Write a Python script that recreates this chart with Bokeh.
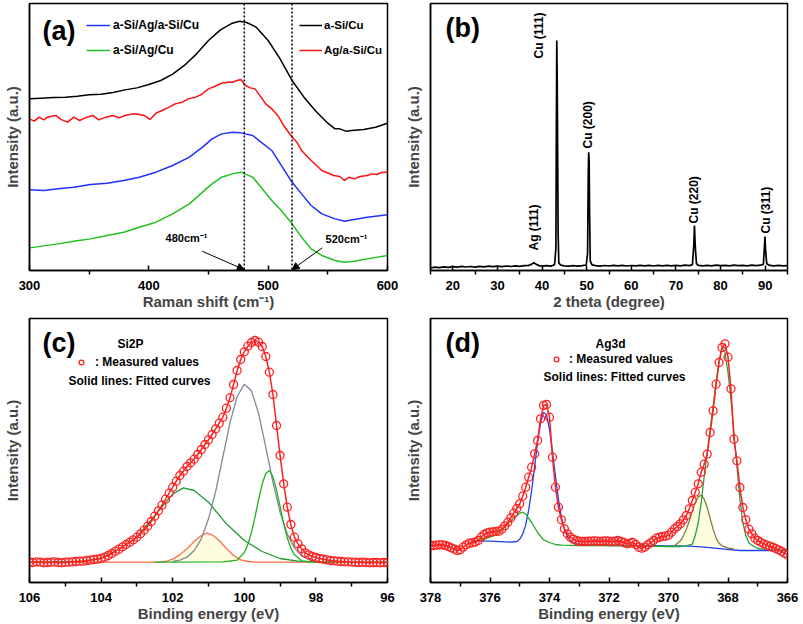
import math
from bokeh.plotting import figure
from bokeh.layouts import column, row
from bokeh.models import (Range1d, FixedTicker, Span, Arrow, NormalHead, Label,
                          Legend, LegendItem)
from bokeh.core.properties import value
from bokeh.embed import file_html
from bokeh.resources import INLINE

FONT = "Liberation Sans"

# ---------------- (a) Raman spectra ----------------
raman_black_x = [300, 310, 320, 330, 340, 350, 360, 370, 380, 390, 400, 410, 420, 430, 440, 450, 460, 470,
                 476, 482, 490, 500, 510, 520, 530, 540, 550, 556, 560, 565, 570, 580, 590, 600]
raman_black_y = [173.3, 174.0, 174.7, 175.0, 176.0, 177.3, 178.0, 179.7, 182.3, 184.3, 187.7, 191.7, 198.0,
                 207.0, 218.3, 231.7, 242.3, 249.0, 251.0, 249.7, 245.0, 231.7, 213.3, 191.7, 175.0, 161.0,
                 149.0, 143.3, 143.3, 141.0, 141.7, 142.7, 145.0, 149.0]
raman_red_x = [300, 304, 308, 312, 315, 322, 327, 332, 337, 342, 348, 353, 358, 364, 370, 375, 380, 386, 392,
               396, 401, 406, 411, 417, 422, 428, 433, 439, 444, 450, 455, 461, 466, 470, 474, 477, 481, 485,
               489, 494, 498, 503, 508, 513, 519, 524, 528, 536, 545, 555, 560, 564, 568, 572, 577, 583, 587,
               591, 595, 600]
raman_red_y = [153.3, 151.0, 155.0, 152.3, 155.0, 156.7, 152.3, 150.0, 155.0, 151.7, 155.0, 156.7, 152.3,
               155.0, 156.7, 154.3, 156.7, 158.3, 157.7, 156.7, 152.7, 159.0, 161.7, 165.0, 168.3, 170.0,
               173.3, 175.0, 177.7, 183.3, 185.7, 189.0, 190.0, 190.0, 191.7, 192.7, 186.7, 184.3, 183.3,
               175.0, 168.3, 163.3, 156.7, 146.7, 136.7, 130.0, 121.7, 111.7, 101.7, 96.7, 95.7, 91.7, 95.0,
               93.3, 95.7, 96.7, 98.3, 97.7, 99.7, 100.0]
raman_bg_x = [300, 312, 324, 337, 351, 365, 379, 392, 406, 420, 434, 445, 453, 461, 470, 477, 487, 494, 503,
              511, 519, 528, 536, 545, 556, 564, 572, 583, 600]
raman_blue_y = [82.3, 81.7, 83.3, 85.0, 87.7, 89.0, 91.7, 95.0, 100.0, 106.7, 115.0, 125.0, 133.3, 138.3,
                140.0, 139.3, 136.7, 130.0, 121.7, 106.7, 91.7, 78.3, 66.7, 58.3, 53.3, 51.0, 52.7, 55.0, 57.3]
raman_green_y = [24.3, 26.3, 28.3, 31.0, 33.3, 36.7, 40.0, 45.0, 50.0, 58.3, 68.3, 80.0, 88.3, 95.0, 98.3,
                 100.0, 95.0, 85.0, 71.7, 61.7, 50.0, 35.0, 23.3, 16.7, 11.7, 10.0, 11.0, 13.3, 16.7]
raman_marks = [480, 520]
raman_mark_text = ["480cm\u207b\u00b9", "520cm\u207b\u00b9"]
raman_arrow_x0 = [444.6, 545.3]
raman_arrow_y0 = [21.0, 24.3]
raman_arrow_y1 = [2.5, 2.5]

# ---------------- (b) XRD ----------------
xrd_x = [15, 16, 17, 18, 19, 20, 21, 22, 23, 24, 25, 26, 27, 28, 29, 30, 31, 32, 33, 34, 35, 36, 37, 37.6,
         38.2, 38.8, 39.5, 40, 41, 42, 42.8, 43.1, 43.2, 43.3, 43.4, 43.5, 43.6, 43.75, 44.2, 45, 46, 47, 48,
         49, 49.9, 50.2, 50.35, 50.45, 50.55, 50.65, 50.8, 51.2, 52, 53, 54, 55, 56, 57, 58, 59, 60, 61, 62,
         63, 64, 65, 66, 67, 68, 69, 70, 71, 72, 73, 73.7, 74.0, 74.15, 74.3, 74.4, 74.6, 75, 76, 77, 78, 79,
         80, 81, 82, 83, 84, 85, 86, 87, 88, 89, 89.6, 89.85, 89.95, 90.05, 90.15, 90.35, 91, 92, 93, 94, 95]
xrd_y = [5.2, 6.0, 5.5, 6.3, 5.8, 6.5, 6.0, 6.8, 6.2, 6.7, 6.1, 6.9, 6.4, 7.0, 6.5, 7.1, 6.6, 7.2, 6.7, 7.3,
         6.9, 7.5, 7.8, 8.8, 10.5, 8.6, 7.3, 7.0, 7.5, 7.1, 8.5, 25, 140, 232.7, 190, 116, 40, 10, 8.0, 7.4,
         7.0, 7.6, 7.1, 7.5, 8.2, 20, 100, 121, 113, 60, 12, 8.4, 7.6, 7.1, 7.7, 7.2, 7.8, 7.3, 7.9, 7.2,
         7.7, 7.3, 7.9, 7.4, 7.8, 7.2, 7.9, 7.4, 7.8, 7.3, 7.9, 7.4, 8.0, 7.6, 8.6, 28, 47.7, 30, 22, 9.5,
         7.8, 7.3, 7.9, 7.4, 8.0, 7.5, 7.9, 7.3, 8.0, 7.5, 7.9, 7.4, 8.0, 7.6, 8.0, 9.0, 28, 36.7, 26, 19,
         9.5, 7.8, 7.3, 7.9, 7.4, 7.6]
xrd_label_text = ["Ag (111)", "Cu (111)", "Cu (200)", "Cu (220)", "Cu (311)"]
xrd_label_x = [38.1, 39.3, 50.35, 74.05, 90.1]
xrd_label_y = [22.7, 214.7, 124.7, 49.7, 39.7]

# ---------------- (c) Si2P XPS ----------------
si_x = [round(106.0 - 0.1 * i, 1) for i in range(101)]
si_meas = [65, 64, 66, 65, 63, 64, 65, 66, 64, 63,
           65, 65, 66, 67, 68, 68, 70, 71, 73, 74,
           76, 80, 85, 91, 98, 104, 111, 118, 125, 132,
           140, 150, 161, 173, 187, 203, 219, 236, 254, 272,
           290, 308, 325, 338, 352, 363, 374, 388, 403, 418,
           432, 448, 465, 482, 500, 527, 558, 598, 640, 673,
           696, 713, 724, 730, 725, 712, 682, 635, 568, 475,
           385, 300, 230, 178, 140, 120, 105, 93, 87, 82,
           79, 76, 74, 72, 70, 69, 68, 67, 66, 66,
           65, 65, 64, 65, 64, 63, 64, 64, 63, 64,
           64]
si_gray_x = [102.0, 101.8, 101.6, 101.4, 101.2, 101.0, 100.8, 100.6, 100.4, 100.2, 100.0, 99.8, 99.6, 99.4,
             99.2, 99.0, 98.8, 98.6, 98.4, 98.2, 98.0]
si_gray_y = [67, 71, 80, 100, 135, 195, 277, 380, 483, 562, 599, 579, 511, 410, 305, 214, 150, 108, 84, 73, 68]
si_green2_x = [102.5, 100.6, 100.2, 100.0, 99.9, 99.8, 99.7, 99.6, 99.5, 99.4, 99.3, 99.2, 99.1, 99.0, 98.9,
               98.8, 98.7, 98.6, 98.4, 98.2, 97.5]
si_green2_y = [65, 66, 71, 94, 118, 154, 201, 253, 300, 331, 340, 321, 282, 232, 181, 138, 107, 87, 69, 66, 65]
si_green1_x = [106.0, 104.5, 104.0, 103.5, 103.0, 102.5, 102.0, 101.7, 101.4, 101.0, 100.5, 100.0, 99.5,
               99.0, 98.5, 98.0, 97.0, 96.0]
si_green1_y = [65, 67, 78, 103, 140, 205, 270, 288, 280, 245, 180, 130, 97, 76, 68, 66, 65, 65]
si_orange_x = [106.0, 102.4, 102.2, 102.0, 101.8, 101.6, 101.4, 101.2, 101.05, 100.9, 100.7, 100.5, 100.3,
               100.1, 99.9, 99.7, 96.0]
si_orange_y = [65, 65, 67, 74, 87, 105, 127, 145, 152, 147, 130, 106, 85, 72, 67, 65, 65]
si_base = 65

# ---------------- (d) Ag3d XPS ----------------
ag_x = [round(378.0 - 0.1 * i, 1) for i in range(121)]
ag_meas = [111, 111, 112, 113, 113, 111, 108, 104, 100, 96,
           98, 106, 113, 118, 119, 121, 126, 136, 144, 149,
           151, 152, 153, 154, 160, 170, 181, 194, 208, 222,
           236, 259, 286, 316, 346, 386, 426, 491, 531, 534,
           496, 376, 286, 226, 188, 161, 146, 136, 130, 126,
           124, 123, 123, 124, 124, 125, 124, 123, 124, 125,
           124, 123, 124, 126, 123, 120, 116, 118, 120, 114,
           106, 103, 106, 113, 119, 126, 133, 136, 138, 139,
           142, 151, 161, 168, 176, 188, 201, 221, 246, 271,
           296, 331, 355, 385, 450, 515, 595, 660, 705, 716,
           676, 581, 430, 365, 285, 225, 188, 160, 146, 133,
           126, 121, 116, 112, 109, 106, 102, 98, 93, 88,
           83]
ag_blue_x = [376.6, 376.0, 375.5, 375.3, 375.1, 375.0, 374.9, 374.8, 374.7, 374.6, 374.5, 374.4, 374.3,
             374.2, 374.1, 374.0, 373.9, 373.8, 373.7, 373.6, 373.5, 373.4, 373.3, 373.2, 373.0, 372.0,
             371.0, 370.0, 369.3, 368.8, 368.2, 367.6, 366.0]
ag_blue_y = [125, 124, 122, 121, 123, 130, 145, 173, 217, 276, 347, 421, 480, 511, 502, 460, 393, 318, 250,
             196, 160, 138, 126, 120, 114, 111, 111, 110, 109, 106, 101, 96, 96]
ag_green1_x = [376.6, 376.4, 376.2, 376.0, 375.8, 375.6, 375.4, 375.2, 375.0, 374.9, 374.8, 374.6, 374.4,
               374.2, 374.0, 373.8, 373.6, 373.0, 372.0, 371.0, 370.0]
ag_green1_y = [125, 126, 130, 136, 143, 157, 176, 194, 208, 211, 205, 180, 150, 128, 120, 114, 112, 111, 111,
               110, 108]
ag_olive_x = [370.0, 369.8, 369.6, 369.5, 369.4, 369.3, 369.2, 369.1, 369.0, 368.9, 368.8, 368.7, 368.6,
              368.5, 368.4, 368.3, 368.2, 368.0, 367.8]
ag_olive_y = [108, 110, 125, 140, 160, 185, 213, 240, 257, 262, 250, 225, 192, 160, 133, 118, 110, 104, 100]
ag_green2_x = [370.0, 369.6, 369.4, 369.2, 369.1, 369.0, 368.9, 368.8, 368.7, 368.6, 368.5, 368.4, 368.3,
               368.2, 368.1, 368.0, 367.9, 367.8, 367.7, 367.6, 367.5, 367.4, 367.3, 367.2, 367.0, 366.5,
               366.0]
ag_green2_y = [108, 108, 110, 115, 141, 180, 240, 318, 390, 458, 530, 598, 665, 705, 690, 630, 550, 450, 350,
               250, 180, 140, 120, 112, 102, 98, 96]
ag_base = 108


# ---------------- helpers ----------------
def make_fig(w, h, xr, yr, bl, br, bt, bb, xlabel, ticks, minor):
    p = figure(width=w, height=h, x_range=xr, y_range=yr, output_backend="svg",
               toolbar_location=None, min_border_left=bl, min_border_right=br,
               min_border_top=bt, min_border_bottom=bb)
    p.xgrid.visible = False
    p.ygrid.visible = False
    p.outline_line_color = "black"
    p.outline_line_width = 1.5
    p.outline_line_alpha = 1.0
    xa = p.xaxis[0]
    xa.ticker = FixedTicker(ticks=ticks, minor_ticks=minor)
    xa.axis_label = xlabel
    xa.axis_label_text_font = FONT
    xa.axis_label_text_font_style = "bold"
    xa.axis_label_text_font_size = "15px"
    xa.axis_label_standoff = 0
    xa.major_label_text_font = FONT
    xa.major_label_text_font_style = "bold"
    xa.major_label_text_font_size = "13px"
    xa.major_label_text_color = "black"
    xa.major_label_standoff = 6
    xa.major_tick_in = 5
    xa.major_tick_out = 0
    xa.minor_tick_in = 0
    xa.minor_tick_out = 4
    xa.major_tick_line_width = 1.5
    xa.minor_tick_line_width = 1.5
    xa.axis_line_width = 1.5
    ya = p.yaxis[0]
    ya.ticker = FixedTicker(ticks=[])
    ya.axis_label = "Intensity (a.u.)"
    ya.axis_label_text_font = FONT
    ya.axis_label_text_font_style = "bold"
    ya.axis_label_text_font_size = "15px"
    ya.axis_label_standoff = 9
    ya.major_label_standoff = 0
    ya.major_tick_in = 0
    ya.major_tick_out = 0
    ya.minor_tick_in = 0
    ya.minor_tick_out = 0
    ya.axis_line_width = 1.5
    return p


def style_legend(leg, size="12px", gw=24, gh=14, standoff=3, spacing=11):
    leg.glyph_width = gw
    leg.glyph_height = gh
    leg.label_height = 14
    leg.label_standoff = standoff
    leg.spacing = spacing
    leg.padding = 0
    leg.margin = 0
    leg.border_line_alpha = 0
    leg.background_fill_alpha = 0
    leg.label_text_font = FONT
    leg.label_text_font_style = "bold"
    leg.label_text_font_size = size
    leg.label_text_color = "black"
    return leg


def add_text(p, x, y, text, size, align="left"):
    p.add_layout(Label(x=x, y=y, x_units="screen", y_units="screen", text=text,
                       text_font=FONT, text_font_style="bold", text_font_size=size,
                       text_align=align, text_baseline="middle", text_color="black"))


# ---------------- (a) ----------------
pa = make_fig(401, 312, Range1d(300, 600), Range1d(1.67, 268.67), 25, 14, 3, 42,
              "Raman shift (cm\u207b\u00b9)", [300, 400, 500, 600], [350, 450, 550])
for m in raman_marks:
    pa.add_layout(Span(location=m, dimension="height", line_color="black", line_dash="2 2",
                       line_width=1.5))
r_black = pa.line(raman_black_x, raman_black_y, line_color="black", line_width=1.5)
r_red = pa.line(raman_red_x, raman_red_y, line_color="#ff1010", line_width=1.5)
r_blue = pa.line(raman_bg_x, raman_blue_y, line_color="#2030ff", line_width=1.5)
r_green = pa.line(raman_bg_x, raman_green_y, line_color="#20c020", line_width=1.5)
for i in range(2):
    pa.add_layout(Arrow(x_start=raman_arrow_x0[i], y_start=raman_arrow_y0[i], x_end=raman_marks[i],
                        y_end=raman_arrow_y1[i], line_color="black", line_width=1,
                        end=NormalHead(size=7, fill_color="black", line_color="black")))
leg_a1 = style_legend(Legend(items=[LegendItem(label="a-Si/Ag/a-Si/Cu", renderers=[r_blue]),
                                    LegendItem(label="a-Si/Ag/Cu", renderers=[r_green])],
                             location=(57, 213)))
leg_a2 = style_legend(Legend(items=[LegendItem(label="a-Si/Cu", renderers=[r_black]),
                                    LegendItem(label="Ag/a-Si/Cu", renderers=[r_red])],
                             location=(270, 213)), size="11.5px", gw=23, standoff=2)
pa.add_layout(leg_a1)
pa.add_layout(leg_a2)
add_text(pa, 13, 240, "(a)", "27px")
add_text(pa, 157, 33, raman_mark_text[0], "11px", "center")
add_text(pa, 317, 32, raman_mark_text[1], "11px", "center")

# ---------------- (b) ----------------
pb = make_fig(402, 312, Range1d(15, 95), Range1d(2.7, 269.7), 27, 16, 3, 42,
              "2 theta (degree)", [20, 30, 40, 50, 60, 70, 80, 90], [15, 25, 35, 45, 55, 65, 75, 85, 95])
pb.line(xrd_x, xrd_y, line_color="black", line_width=1.7)
pb.text(xrd_label_x, xrd_label_y, text=xrd_label_text, angle=math.pi / 2, text_align="left",
        text_baseline="middle", text_font=value(FONT), text_font_style="bold",
        text_font_size="12px", text_color="black")
add_text(pb, 15, 243, "(b)", "27px")

# ---------------- (c) ----------------
pc = make_fig(401, 312, Range1d(106, 96), Range1d(4, 796), 25, 14, 6, 42,
              "Binding energy (eV)", [96, 98, 100, 102, 104, 106], [97, 99, 101, 103, 105])
pc.varea(x=si_orange_x, y1=si_base, y2=si_orange_y, fill_color="#fffde0", fill_alpha=1.0)
pc.line(si_orange_x, si_orange_y, line_color="#ff6e45", line_width=1.3)
pc.line(si_green1_x, si_green1_y, line_color="#1f9a35", line_width=1.3)
pc.line(si_gray_x, si_gray_y, line_color="#7f8a94", line_width=1.3)
pc.line(si_green2_x, si_green2_y, line_color="#22b022", line_width=1.3)
pc.line(si_x, si_meas, line_color="#ff2020", line_width=1.5)
c_circ = pc.scatter(si_x, si_meas, marker="circle", size=8, line_color="#ff2020", fill_alpha=0,
                    line_width=1.3)
leg_c = style_legend(Legend(items=[LegendItem(label=": Measured values", renderers=[c_circ])],
                            location=(46, 213)), gw=12, standoff=8)
pc.add_layout(leg_c)
add_text(pc, 13, 240, "(c)", "27px")
add_text(pc, 101, 239, "Si2P", "12px", "center")
add_text(pc, 110, 202, "Solid lines: Fitted curves", "12px", "center")

# ---------------- (d) ----------------
pd = make_fig(402, 312, Range1d(378, 366), Range1d(0, 792), 27, 16, 6, 42,
              "Binding energy (eV)", [366, 368, 370, 372, 374, 376, 378], [367, 369, 371, 373, 375, 377])
pd.varea(x=ag_olive_x, y1=ag_base, y2=ag_olive_y, fill_color="#fffde0", fill_alpha=1.0)
pd.line(ag_blue_x, ag_blue_y, line_color="#2040f0", line_width=1.3)
pd.line(ag_green1_x, ag_green1_y, line_color="#22aa22", line_width=1.3)
pd.line(ag_olive_x, ag_olive_y, line_color="#80803a", line_width=1.3)
pd.line(ag_green2_x, ag_green2_y, line_color="#25a04a", line_width=1.3)
pd.line(ag_x, ag_meas, line_color="#ff2020", line_width=1.5)
d_circ = pd.scatter(ag_x, ag_meas, marker="circle", size=8, line_color="#ff2020", fill_alpha=0,
                    line_width=1.3)
leg_d = style_legend(Legend(items=[LegendItem(label=": Measured values", renderers=[d_circ])],
                            location=(120, 216)), gw=12, standoff=7)
pd.add_layout(leg_d)
add_text(pd, 15, 240, "(d)", "27px")
add_text(pd, 180, 239, "Ag3d", "12px", "center")
add_text(pd, 184, 206, "Solid lines: Fitted curves", "12px", "center")

layout = column(row(pa, pb), row(pc, pd))
open("out.html", "w").write(file_html(layout, INLINE))
